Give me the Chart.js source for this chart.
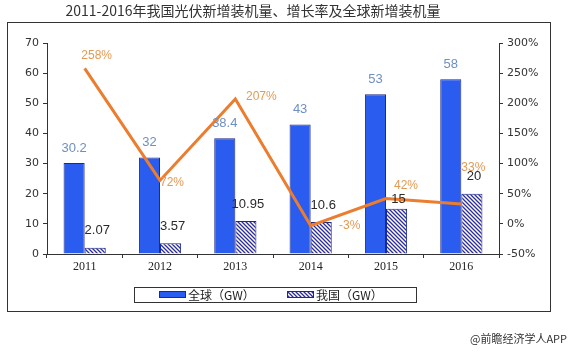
<!DOCTYPE html>
<html>
<head>
<meta charset="utf-8">
<script src="https://cdn.jsdelivr.net/npm/chart.js@4.4.0/dist/chart.umd.min.js"></script>
<style>
  html, body { margin: 0; padding: 0; background: #fff; }
  #wrap { width: 575px; height: 360px; }
</style>
</head>
<body>
<div id="wrap"><canvas id="pvChart" width="575" height="360"></canvas></div>
<script>
// data
const years = ['2011', '2012', '2013', '2014', '2015', '2016'];
const globalGW = [30.2, 32, 38.4, 43, 53, 58];
const chinaGW = [2.07, 3.57, 10.95, 10.6, 15, 20];
const growthPct = [258, 72, 207, -3, 42, 33];
const leftTicks = [0, 10, 20, 30, 40, 50, 60, 70];
const rightTicks = [-50, 0, 50, 100, 150, 200, 250, 300];

const titleText = '2011-2016年我国光伏新增装机量、增长率及全球新增装机量';
const footerText = '@前瞻经济学人APP';

function hatch() {
    const c = document.createElement('canvas');
    c.width = 4; c.height = 4;
    const g = c.getContext('2d');
    g.fillStyle = '#ffffff';
    g.fillRect(0, 0, 4, 4);
    g.strokeStyle = '#2c2c9a';
    g.lineWidth = 1.3;
    g.beginPath();
    g.moveTo(-1, -1); g.lineTo(5, 5);
    g.moveTo(-1, 3); g.lineTo(1, 5);
    g.moveTo(3, -1); g.lineTo(5, 1);
    g.stroke();
    return g.createPattern(c, 'repeat');
}

const numFont = "13px 'Liberation Sans', sans-serif";
const cjkFont = "'Noto Sans CJK SC', sans-serif";

// extras: frame, title, value labels, legend, footer
const decor = {
    id: 'decor',
    afterDraw(chart) {
        const ctx = chart.ctx;
        ctx.save();
        // outer frame
        ctx.strokeStyle = '#333';
        ctx.lineWidth = 1;
        ctx.strokeRect(7.5, 22.5, 543, 289);

        // title
        ctx.fillStyle = '#333';
        ctx.font = '14px ' + cjkFont;
        ctx.textAlign = 'center';
        ctx.textBaseline = 'middle';
        ctx.fillText(titleText, 253, 11);

        // bar labels
        ctx.font = numFont;
        const m0 = chart.getDatasetMeta(0);
        m0.data.forEach((bar, i) => {
            ctx.fillStyle = '#6f8fc2';
            ctx.fillText(String(globalGW[i]), bar.x, bar.y - 15);
        });
        const m1 = chart.getDatasetMeta(1);
        m1.data.forEach((bar, i) => {
            ctx.fillStyle = '#2a2a2a';
            ctx.fillText(String(chinaGW[i]), bar.x + 2, bar.y - (i === 4 ? 9 : 17));
        });

        // growth labels, nudged off the line like the original
        const nudge = [[12, -13], [12, 2], [26, -2], [39, 0], [20, -13], [12, -36]];
        const m2 = chart.getDatasetMeta(2);
        ctx.fillStyle = '#e39a55';
        ctx.font = "12px 'Liberation Sans', sans-serif";
        m2.data.forEach((pt, i) => {
            ctx.fillText(growthPct[i] + '%', pt.x + nudge[i][0], pt.y + nudge[i][1]);
        });

        // legend (bar series only), framed
        ctx.strokeStyle = '#333';
        ctx.strokeRect(134.5, 287.5, 282, 15);
        const items = [[159, 0], [287, 1]];
        ctx.textAlign = 'left';
        ctx.font = '12px ' + cjkFont;
        items.forEach(([x, di]) => {
            const ds = chart.data.datasets[di];
            ctx.fillStyle = ds.backgroundColor;
            ctx.fillRect(x, 291, 27, 7);
            ctx.strokeStyle = ds.borderColor;
            ctx.strokeRect(x + 0.5, 291.5, 26, 6);
            ctx.fillStyle = '#222';
            ctx.fillText(ds.label, x + 29, 295);
        });

        // footer
        ctx.fillStyle = '#333';
        ctx.font = '11px ' + cjkFont;
        ctx.textAlign = 'right';
        ctx.fillText(footerText, 567, 339);
        ctx.restore();
    }
};

const stripes = hatch();

new Chart(document.getElementById('pvChart'), {
    type: 'bar',
    data: {
        labels: years,
        datasets: [
            {
                label: '全球（GW）',
                data: globalGW,
                backgroundColor: '#2b5cf0',
                borderColor: '#1c2a88',
                borderWidth: 1,
                yAxisID: 'y',
                order: 2
            },
            {
                label: '我国（GW）',
                data: chinaGW,
                backgroundColor: stripes,
                borderColor: '#1c2a88',
                borderWidth: 1,
                yAxisID: 'y',
                order: 2
            },
            {
                label: '增长率',
                type: 'line',
                data: growthPct,
                borderColor: '#ec7d2e',
                borderWidth: 3,
                pointRadius: 0,
                tension: 0,
                yAxisID: 'y1',
                order: 1
            }
        ]
    },
    options: {
        responsive: false,
        animation: false,
        layout: { padding: { top: 43, left: 7, right: 25, bottom: 82 } },
        categoryPercentage: 0.56,
        barPercentage: 1,
        plugins: {
            title: { display: false },
            tooltip: { enabled: false },
            legend: { display: false }
        },
        scales: {
            x: {
                grid: { display: true, drawOnChartArea: false, offset: true, tickLength: 4, color: '#333' },
                border: { color: '#333' },
                ticks: { color: '#222', font: { family: "'Liberation Serif', serif", size: 12 }, padding: 2 },
                afterFit(s) { s.height = 24; }
            },
            y: {
                position: 'left',
                min: 0,
                max: 70,
                afterBuildTicks(s) { s.ticks = leftTicks.map(v => ({ value: v })); },
                grid: { drawOnChartArea: false, tickLength: 4, color: '#333' },
                border: { color: '#333' },
                ticks: { color: '#333', font: { family: "'DejaVu Sans', sans-serif", size: 11 }, padding: 4 },
                afterFit(s) { s.width = 40; }
            },
            y1: {
                position: 'right',
                min: -50,
                max: 300,
                afterBuildTicks(s) { s.ticks = rightTicks.map(v => ({ value: v })); },
                grid: { drawOnChartArea: false, tickLength: 4, color: '#333' },
                border: { color: '#333' },
                ticks: {
                    color: '#333',
                    font: { family: "'DejaVu Sans', sans-serif", size: 11 },
                    padding: 4,
                    callback: v => v + '%'
                },
                afterFit(s) { s.width = 51; }
            }
        }
    },
    plugins: [decor]
});
</script>
</body>
</html>
